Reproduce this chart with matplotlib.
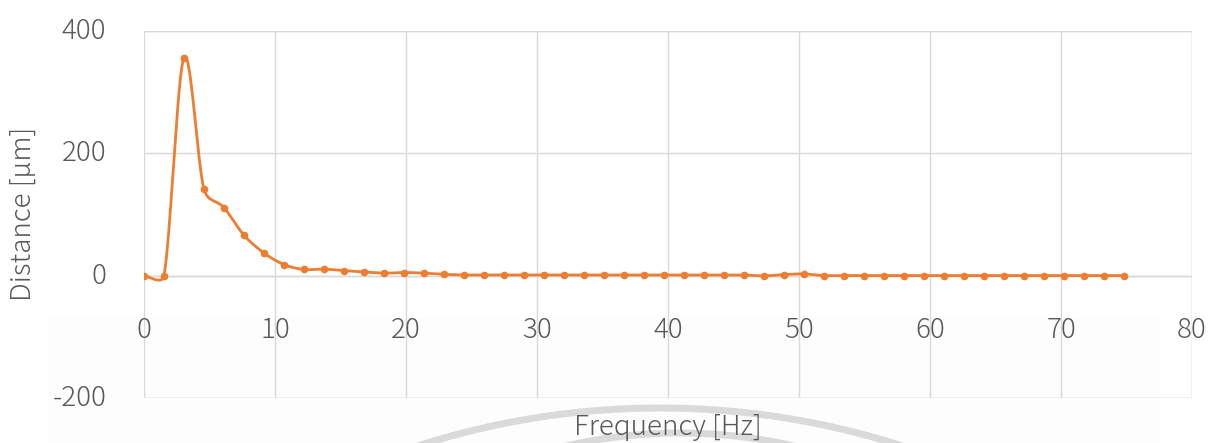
import numpy as np
import matplotlib
matplotlib.use("Agg")
import matplotlib.pyplot as plt
import matplotlib.transforms as mtrans
from matplotlib.patches import Arc, Rectangle

# Spectrum: frequency bins and measured distance amplitude
freq_step = 1.526
n_bins = 50
distance_um = [
    0, -0.5, 356, 141, 111, 66, 37, 18, 10, 10.5,
    8, 6, 4, 5, 4, 2, 1, 1, 1, 1,
    1, 1, 1, 1, 1, 1, 1, 1, 1, 1,
    1, -0.5, 1.5, 2.7, 0, 0, 0, 0, 0, 0,
    0, 0, 0, 0, 0, 0, 0, 0, 0, 0,
]
frequency_hz = [i * freq_step for i in range(n_bins)]

x_ticks = [0, 10, 20, 30, 40, 50, 60, 70, 80]
y_ticks = [-200, 0, 200, 400]

FONT = ["Noto Sans CJK JP", "DejaVu Sans"]
WEIGHT = 300
SIZE = 20
TEXT = "#595959"
GRID = "#d9d9d9"
ORANGE = "#ED7D31"

plt.rcParams["font.family"] = FONT
plt.rcParams["font.weight"] = WEIGHT
plt.rcParams["axes.unicode_minus"] = False

W, H, DPI = 1209, 443, 100
fig = plt.figure(figsize=(W / DPI, H / DPI), dpi=DPI)
fig.patch.set_facecolor("white")

# faint shaded band under the lower part of the chart
fig.add_artist(Rectangle((48 / W, 0), (1160 - 48) / W, (443 - 318) / H,
                         transform=fig.transFigure, facecolor="#fdfdfd",
                         edgecolor="none", zorder=-2))

ax = fig.add_axes([144 / W, (H - 398) / H, (1192 - 144) / W, (398 - 30.7) / H])
ax.set_facecolor("none")
ax.set_xlim(0, 80)
ax.set_ylim(-200, 400)

ax.set_xticks(x_ticks)
ax.set_yticks(y_ticks)
ax.grid(True, color=GRID, linewidth=1.0)
for s in ["top", "right", "left"]:
    ax.spines[s].set_visible(False)
ax.spines["bottom"].set_position(("data", 0))
ax.spines["bottom"].set_visible(False)
ax.axhline(0, color="#cfcfcf", linewidth=1.0, zorder=1)
# frame on the outer grid lines
for yv in (-200, 400):
    ax.axhline(yv, color=GRID, linewidth=1.0, zorder=0.5)
ax.axvline(80, color=GRID, linewidth=1.0, zorder=0.5)

ax.tick_params(axis="both", length=0, labelsize=SIZE, labelcolor=TEXT)
ax.tick_params(axis="x", pad=29)
ax.tick_params(axis="y", pad=27)
lift = mtrans.ScaledTranslation(0, 3 / DPI, fig.dpi_scale_trans)
for lab in ax.get_xticklabels():
    lab.set_fontweight(WEIGHT)
for lab in ax.get_yticklabels():
    lab.set_fontweight(WEIGHT)
    lab.set_transform(lab.get_transform() + lift)

# Smoothed line (cardinal Bezier spline computed in display space)
fig.canvas.draw()
pts = ax.transData.transform(np.column_stack([frequency_hz, distance_um]))
n = len(pts)
curve = [pts[0]]
for i in range(n - 1):
    p0 = pts[max(i - 1, 0)]
    p1 = pts[i]
    p2 = pts[i + 1]
    p3 = pts[min(i + 2, n - 1)]
    seg = np.linalg.norm(p2 - p1)
    t1 = p2 - p0
    t2 = p3 - p1
    n1 = np.linalg.norm(t1)
    n2 = np.linalg.norm(t2)
    c1 = p1 + (t1 / n1 * min(n1 / 6, seg / 2) if n1 > 0 else 0)
    c2 = p2 - (t2 / n2 * min(n2 / 6, seg / 2) if n2 > 0 else 0)
    t = np.linspace(0, 1, 30)[1:, None]
    b = ((1 - t) ** 3) * p1 + 3 * ((1 - t) ** 2) * t * c1 + 3 * (1 - t) * t ** 2 * c2 + t ** 3 * p2
    curve.extend(b)
curve = ax.transData.inverted().transform(np.array(curve))
ax.plot(curve[:, 0], curve[:, 1], color=ORANGE, linewidth=2.0, zorder=3,
        solid_capstyle="round")
ax.plot(frequency_hz, distance_um, linestyle="none", marker="o", markersize=4.5,
        color=ORANGE, zorder=4)

# axis titles
fig.text(668 / W, 1 - 427 / H, "Frequency [Hz]", ha="center", va="center",
         fontsize=SIZE, color=TEXT, fontweight=WEIGHT)
fig.text(23 / W, 1 - 214 / H, "Distance [μm]", ha="center", va="center",
         rotation=90, fontsize=SIZE, color=TEXT, fontweight=WEIGHT)

# light grey arcs along the bottom edge
px = fig.dpi_scale_trans
fig.add_artist(Arc((660 / DPI, (H - 1201) / DPI), 2 * 793 / DPI, 2 * 793 / DPI,
                   theta1=70, theta2=110, transform=px, color="#dadada",
                   linewidth=5, zorder=-1))
fig.add_artist(Arc((680 / DPI, (H - 938) / DPI), 2 * 505 / DPI, 2 * 505 / DPI,
                   theta1=70, theta2=110, transform=px, color="#dadada",
                   linewidth=5, zorder=-1))

fig.savefig("out.png", dpi=DPI)
